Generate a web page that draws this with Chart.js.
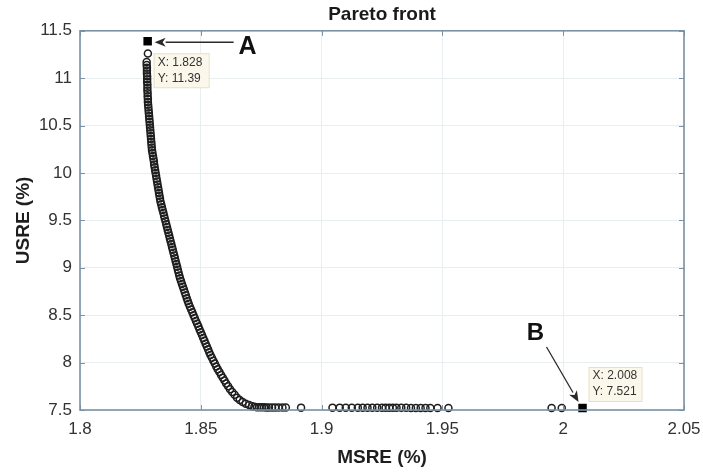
<!DOCTYPE html>
<html><head><meta charset="utf-8">
<script src="https://cdn.jsdelivr.net/npm/chart.js@4"></script>
<style>html,body{margin:0;padding:0;background:#fff}</style>
</head><body>
<canvas id="c" width="703" height="474"></canvas>
<script>
// ---- data ----
const paretoX = [
1.8281,1.8276,1.8276,1.8277,1.8277,1.8277,1.8278,1.8278,1.8278,1.8279,
1.8279,1.8279,1.8280,1.8280,1.8281,1.8281,1.8282,1.8283,1.8284,1.8285,
1.8286,1.8287,1.8288,1.8289,1.8290,1.8291,1.8292,1.8293,1.8294,1.8295,
1.8296,1.8297,1.8298,1.8300,1.8302,1.8304,1.8306,1.8307,1.8309,1.8311,
1.8313,1.8315,1.8317,1.8319,1.8321,1.8323,1.8325,1.8327,1.8329,1.8331,
1.8333,1.8336,1.8339,1.8342,1.8345,1.8348,1.8351,1.8354,1.8357,1.8360,
1.8363,1.8366,1.8369,1.8372,1.8375,1.8378,1.8381,1.8384,1.8387,1.8390,
1.8393,1.8396,1.8399,1.8402,1.8405,1.8408,1.8411,1.8414,1.8418,1.8422,
1.8426,1.8430,1.8434,1.8438,1.8442,1.8446,1.8450,1.8455,1.8460,1.8465,
1.8470,1.8475,1.8480,1.8485,1.8490,1.8495,1.8500,1.8505,1.8510,1.8515,
1.8520,1.8525,1.8530,1.8535,1.8540,1.8546,1.8552,1.8558,1.8564,1.8570,
1.8577,1.8584,1.8591,1.8598,1.8605,1.8613,1.8621,1.8630,1.8640,1.8650,
1.8661,1.8673,1.8686,1.8700,1.8712,1.8722,1.8732,1.8742,1.8752,1.8762,
1.8772,1.8782,1.8795,1.8808,1.8822,1.8838,1.8852,1.8915,1.9045,1.9075,
1.9100,1.9125,1.9150,1.9170,1.9190,1.9210,1.9230,1.9250,1.9265,1.9280,
1.9295,1.9310,1.9330,1.9350,1.9370,1.9390,1.9410,1.9430,1.9450,1.9480,
1.9525,1.9952,1.9994
];
const paretoY = [
11.26,11.17,11.14,11.11,11.08,11.05,11.02,10.99,10.96,10.93,
10.90,10.87,10.84,10.81,10.78,10.75,10.72,10.69,10.66,10.63,
10.60,10.57,10.54,10.51,10.48,10.45,10.42,10.39,10.36,10.33,
10.30,10.27,10.24,10.21,10.18,10.15,10.12,10.09,10.06,10.03,
10.00,9.97,9.94,9.91,9.88,9.85,9.82,9.79,9.76,9.73,
9.70,9.67,9.64,9.61,9.58,9.55,9.52,9.49,9.46,9.43,
9.40,9.37,9.34,9.31,9.28,9.25,9.22,9.19,9.16,9.13,
9.10,9.07,9.04,9.01,8.98,8.95,8.92,8.89,8.86,8.83,
8.80,8.77,8.74,8.71,8.68,8.65,8.62,8.59,8.56,8.53,
8.50,8.47,8.44,8.41,8.38,8.35,8.32,8.29,8.26,8.23,
8.20,8.17,8.14,8.11,8.08,8.05,8.02,7.99,7.96,7.93,
7.90,7.87,7.84,7.81,7.78,7.75,7.72,7.69,7.66,7.63,
7.605,7.585,7.567,7.552,7.540,7.534,7.530,7.529,7.528,7.528,
7.527,7.527,7.527,7.526,7.526,7.526,7.526,7.525,7.525,7.525,
7.524,7.524,7.524,7.524,7.524,7.524,7.523,7.523,7.523,7.523,
7.523,7.523,7.523,7.523,7.522,7.522,7.522,7.522,7.522,7.522,
7.522,7.521,7.521
];
const pointA = [1.828, 11.39];
const pointB = [2.008, 7.521];
const markLabels = ['A', 'B'];
const chartTitle = 'Pareto front';
const xTitle = 'MSRE (%)';
const yTitle = 'USRE (%)';
const xRange = [1.8, 2.05, 0.05];
const yRange = [7.5, 11.5, 0.5];

// ---- styling ----
const FONT = "'Liberation Sans', Arial, Helvetica, sans-serif";
const AXIS = '#7b91a6';
const TEXT = '#333333';

const decor = {
  id: 'decor',
  afterDatasetsDraw(chart) {
    const {ctx, chartArea: a, scales: {x, y}} = chart;
    ctx.save();
    // inward tick marks
    ctx.strokeStyle = AXIS; ctx.lineWidth = 1;
    ctx.beginPath();
    x.ticks.forEach(t => {
      const px = Math.round(x.getPixelForValue(t.value)) + 0.5;
      ctx.moveTo(px, a.bottom); ctx.lineTo(px, a.bottom - 5);
      ctx.moveTo(px, a.top); ctx.lineTo(px, a.top + 5);
    });
    y.ticks.forEach(t => {
      const py = Math.round(y.getPixelForValue(t.value)) + 0.5;
      ctx.moveTo(a.left, py); ctx.lineTo(a.left + 5, py);
      ctx.moveTo(a.right, py); ctx.lineTo(a.right - 5, py);
    });
    ctx.stroke();
    // box
    ctx.lineWidth = 1.6;
    ctx.strokeRect(a.left, a.top, a.right - a.left, a.bottom - a.top);

    // arrows
    function arrow(x0, y0, x1, y1) {
      const ang = Math.atan2(y1 - y0, x1 - x0);
      const L = 11, W = 4.5;
      const bx = x1 - L * Math.cos(ang), by = y1 - L * Math.sin(ang);
      ctx.strokeStyle = '#2a2a2a'; ctx.fillStyle = '#2a2a2a'; ctx.lineWidth = 1.3;
      ctx.beginPath(); ctx.moveTo(x0, y0); ctx.lineTo(bx, by); ctx.stroke();
      ctx.beginPath();
      ctx.moveTo(x1, y1);
      ctx.lineTo(bx + W * Math.sin(ang), by - W * Math.cos(ang));
      ctx.lineTo(x1 - (L - 3) * Math.cos(ang), y1 - (L - 3) * Math.sin(ang));
      ctx.lineTo(bx - W * Math.sin(ang), by + W * Math.cos(ang));
      ctx.closePath(); ctx.fill();
    }
    const ax = x.getPixelForValue(pointA[0]), ay = y.getPixelForValue(pointA[1]);
    const bxp = x.getPixelForValue(pointB[0]), byp = y.getPixelForValue(pointB[1]);
    arrow(ax + 86, ay + 1, ax + 7, ay + 1);
    arrow(bxp - 36, byp - 61, bxp - 4, byp - 6);

    // letters
    ctx.fillStyle = '#111';
    ctx.font = 'bold 25px ' + FONT;
    ctx.textAlign = 'center'; ctx.textBaseline = 'middle';
    ctx.fillText(markLabels[0], ax + 100, ay + 6);
    ctx.font = 'bold 24px ' + FONT;
    ctx.fillText(markLabels[1], bxp - 47, byp - 75);

    // data tips
    function tip(px, py, dx, dy, w, h, l1, l2) {
      const bx = px + dx, by = py + dy;
      ctx.fillStyle = 'rgba(251,248,234,0.96)';
      ctx.fillRect(bx, by, w, h);
      ctx.strokeStyle = '#e6e0c8'; ctx.lineWidth = 1;
      ctx.strokeRect(bx + 0.5, by + 0.5, w, h);
      ctx.fillStyle = '#333';
      ctx.font = '12px ' + FONT;
      ctx.textAlign = 'left'; ctx.textBaseline = 'middle';
      ctx.fillText(l1, bx + 4, by + 9);
      ctx.fillText(l2, bx + 4, by + 25);
    }
    tip(ax, ay, 6, 12, 55, 34, 'X: ' + pointA[0], 'Y: ' + pointA[1]);
    tip(bxp, byp, 6, -41, 53, 34, 'X: ' + pointB[0], 'Y: ' + pointB[1]);
    ctx.restore();
  }
};

new Chart(document.getElementById('c'), {
  type: 'scatter',
  data: {
    datasets: [
      {
        data: paretoX.map((v, i) => ({x: v, y: paretoY[i]})),
        pointStyle: 'circle', pointRadius: 3.5, pointBorderWidth: 1.5,
        borderColor: '#1e1e1e', backgroundColor: 'rgba(0,0,0,0)',
        pointHoverRadius: 3.5, clip: false
      },
      {
        data: [{x: pointA[0], y: pointA[1]}, {x: pointB[0], y: pointB[1]}],
        pointStyle: 'rect', pointRadius: 6, pointBorderWidth: 0,
        borderColor: '#000', backgroundColor: '#000', clip: false
      }
    ]
  },
  options: {
    responsive: false, animation: false,
    layout: {padding: {left: 0, right: 19, top: 0, bottom: 0}},
    plugins: {
      legend: {display: false}, tooltip: {enabled: false},
      title: {display: true, fullSize: false, text: chartTitle, color: '#1a1a1a',
        font: {family: FONT, size: 19, weight: 'bold'}, padding: {top: 3, bottom: 5}}
    },
    scales: {
      x: {
        type: 'linear', min: xRange[0], max: xRange[1],
        afterFit: s => { s.height = 64; s.paddingLeft = 0; s.paddingRight = 0; },
        ticks: {stepSize: xRange[2], color: TEXT, padding: 9,
          font: {family: FONT, size: 17}, callback: v => String(+v.toFixed(2))},
        grid: {color: '#e9eef1', drawTicks: false, lineWidth: 1},
        border: {display: false},
        title: {display: true, text: xTitle, color: '#1e1e1e',
          font: {family: FONT, size: 19, weight: 'bold'}, padding: {top: 0, bottom: 5}}
      },
      y: {
        type: 'linear', min: yRange[0], max: yRange[1],
        afterFit: s => { s.width = 80; s.paddingTop = 0; s.paddingBottom = 0; },
        ticks: {stepSize: yRange[2], color: TEXT, padding: 8,
          font: {family: FONT, size: 17}, callback: v => String(+v.toFixed(2))},
        grid: {color: '#e9eef1', drawTicks: false, lineWidth: 1},
        border: {display: false},
        title: {display: true, text: yTitle, color: '#1e1e1e',
          font: {family: FONT, size: 19, weight: 'bold'}, padding: {top: 12, bottom: 0}}
      }
    }
  },
  plugins: [decor]
});
</script>
</body></html>
